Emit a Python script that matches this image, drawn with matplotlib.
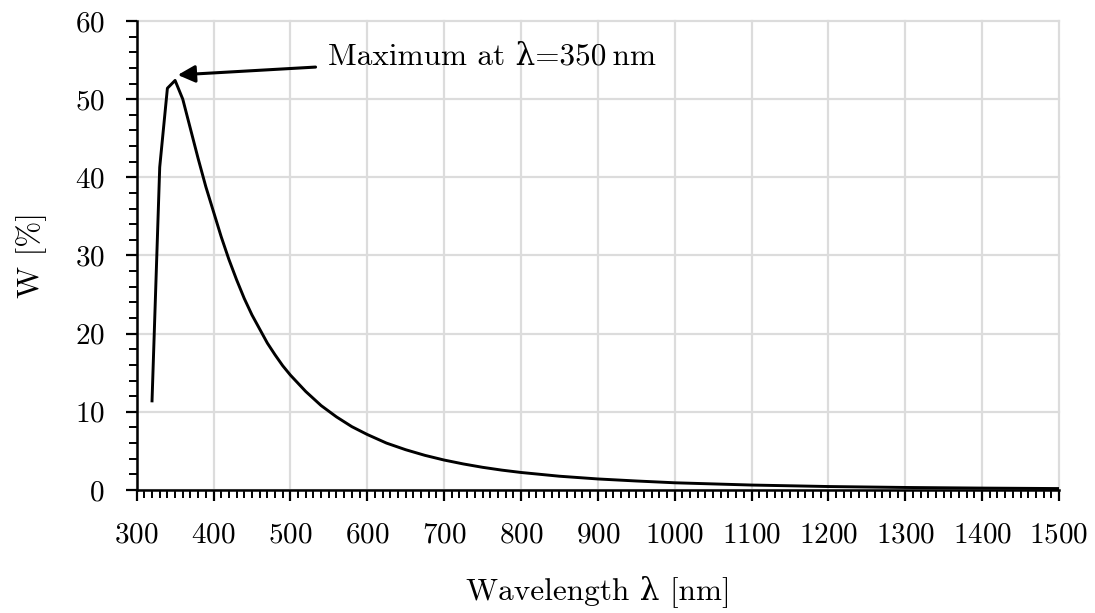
import matplotlib
matplotlib.use("Agg")
import matplotlib.pyplot as plt
from matplotlib.ticker import MultipleLocator

plt.rcParams['font.family'] = ['cmr10', 'DejaVu Serif']
plt.rcParams['mathtext.fontset'] = 'cm'
plt.rcParams['axes.formatter.use_mathtext'] = True
plt.rcParams['font.size'] = 21

# values
wavelength = [320, 330, 340, 350, 360, 370, 380, 390, 400, 410, 420, 430, 440,
              450, 460, 470, 480, 490, 500, 520, 540, 560, 580, 600, 625, 650,
              675, 700, 725, 750, 775, 800, 850, 900, 950, 1000, 1100, 1200,
              1300, 1400, 1500]
w_percent = [11.4, 41.3, 51.4, 52.4, 50.0, 46.2, 42.4, 38.8, 35.6, 32.4, 29.5,
             26.9, 24.5, 22.4, 20.6, 18.8, 17.3, 15.9, 14.7, 12.6, 10.8, 9.35,
             8.1, 7.1, 6.0, 5.15, 4.43, 3.83, 3.33, 2.9, 2.54, 2.24, 1.76,
             1.41, 1.15, 0.92, 0.63, 0.44, 0.32, 0.24, 0.18]

x_ticks = [300, 400, 500, 600, 700, 800, 900, 1000, 1100, 1200, 1300, 1400, 1500]
y_ticks = [0, 10, 20, 30, 40, 50, 60]

fig = plt.figure(figsize=(10.95, 6.13), dpi=100)
ax = fig.add_axes([0.1248, 0.2007, 0.8423, 0.765])

ax.plot(wavelength, w_percent, color='black', lw=2.1, zorder=3)

ax.set_xlim(300, 1500)
ax.set_ylim(0, 60)
ax.set_xticks(x_ticks)
ax.set_yticks(y_ticks)
ax.xaxis.set_minor_locator(MultipleLocator(10))
ax.yaxis.set_minor_locator(MultipleLocator(2))

ax.grid(True, which='major', color='#dcdcdc', lw=1.6, zorder=0)
for gl in ax.get_xgridlines() + ax.get_ygridlines():
    gl.set_clip_on(False)
ax.set_axisbelow(True)

for side in ('top', 'right'):
    ax.spines[side].set_visible(False)
for side in ('left', 'bottom'):
    ax.spines[side].set_linewidth(1.8)

ax.tick_params(which='major', direction='out', length=8, width=1.6, pad=15)
ax.tick_params(which='minor', direction='out', length=5.5, width=1.4)
ax.tick_params(axis='x', which='major', pad=15)

ax.set_xlabel('Wavelength λ [nm]', fontsize=22.5, labelpad=19)
ax.set_ylabel('W [%]', fontsize=22.5, labelpad=20)

ax.annotate('Maximum at λ=350\u2009nm', xy=(353.5, 53.1), xytext=(549, 55.4),
            va='center', ha='left', fontsize=22.5,
            arrowprops=dict(arrowstyle='-|>', color='black', lw=2.2,
                            mutation_scale=26, shrinkA=7, shrinkB=0))

fig.savefig('out.png', dpi=100)
